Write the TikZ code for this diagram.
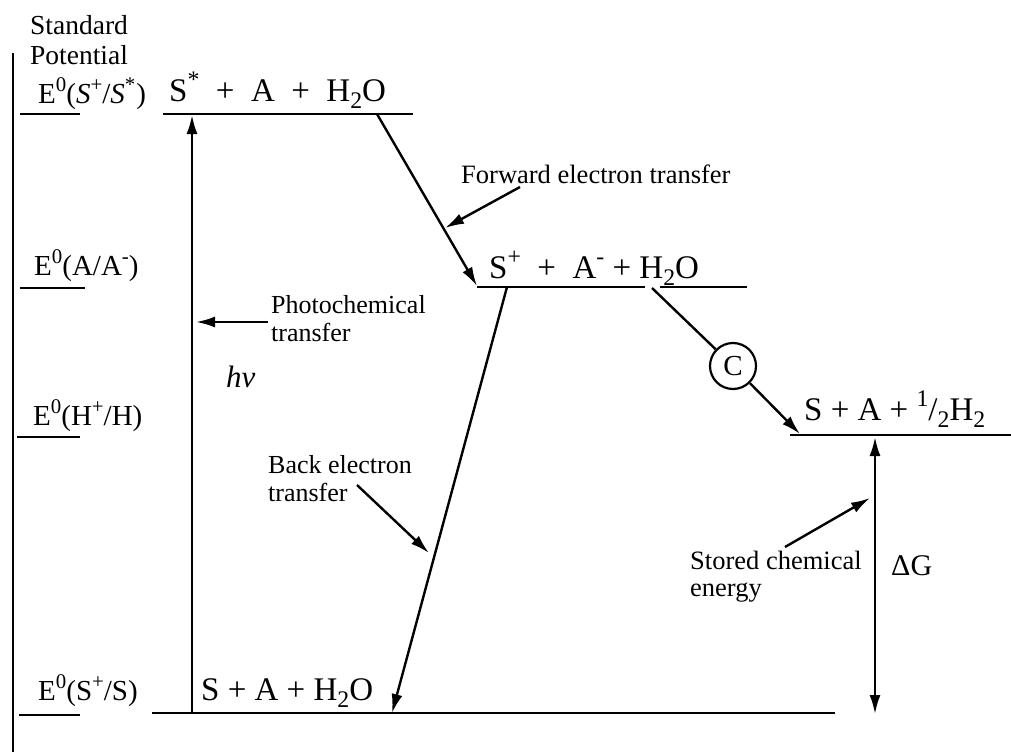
\documentclass[tikz,border=0pt]{standalone}
\usepackage{fontspec}
\usepackage{graphicx}
\setmainfont{Liberation Serif}
\usetikzlibrary{arrows.meta}
\newcommand{\upx}[1]{\raisebox{0.40em}{\scalebox{0.72}{#1}}}
\newcommand{\dnx}[1]{\raisebox{-0.22em}{\scalebox{0.72}{#1}}}
\begin{document}
\begin{tikzpicture}[x=1pt,y=-1pt,line width=2.4pt,
  arr/.style={-{Latex[length=19pt,width=11pt]}},
  dblarr/.style={{Latex[length=19pt,width=11pt]}-{Latex[length=19pt,width=11pt]}},
  lbl/.style={anchor=north west,inner sep=0pt,align=left,font=\fontsize{26}{28}\selectfont},
  lbll/.style={anchor=base west,inner sep=0pt,font=\fontsize{26.5}{28}\selectfont},
  mainlbl/.style={anchor=base west,inner sep=0pt,font=\fontsize{33}{36}\selectfont},
  levlbl/.style={anchor=base west,inner sep=0pt,font=\fontsize{29}{32}\selectfont},
  catal/.style={circle,draw,line width=2.2pt,minimum size=46pt,inner sep=0pt,font=\fontsize{29}{30}\selectfont}]
\useasboundingbox (0,0) rectangle (1011,752);
% axis
\coordinate (axT) at (13,53);
\coordinate (axB) at (13,752);
\draw (axT) -- (axB);
\node[lbl,font=\fontsize{27.5}{30}\selectfont] (std) at (29,14) {Standard\\Potential};
% left potential marks
\coordinate (l1a) at (20,114); \coordinate (l1b) at (80,114);
\coordinate (l2a) at (20,288); \coordinate (l2b) at (85,288);
\coordinate (l3a) at (17,437); \coordinate (l3b) at (80,437);
\coordinate (l4a) at (19,715); \coordinate (l4b) at (80,715);
\draw (l1a) -- (l1b); \draw (l2a) -- (l2b); \draw (l3a) -- (l3b); \draw (l4a) -- (l4b);
\node[levlbl] (e1) at (37,103) {E\upx{0}(\textit{S}\upx{+}/\textit{S}\upx{*}\kern1pt)};
\node[levlbl] (e2) at (33,275) {E\upx{0}(A/A\upx{-})};
\node[levlbl] (e3) at (32,425) {E\upx{0}(H\upx{+}/H)};
\node[levlbl] (e4) at (37,700) {E\upx{0}(S\upx{+}/S)};
% levels
\coordinate (topL) at (163,114); \coordinate (topR) at (413,114);
\coordinate (midL) at (477,287); \coordinate (midM1) at (645,287);
\coordinate (midM2) at (660,287); \coordinate (midR) at (747,287);
\coordinate (rgtL) at (790,435); \coordinate (rgtR) at (1011,435);
\coordinate (botL) at (152,713); \coordinate (botR) at (835,713);
\draw (topL) -- (topR);
\draw (midL) -- (midM1); \draw (midM2) -- (midR);
\draw (rgtL) -- (rgtR);
\draw (botL) -- (botR);
\node[mainlbl] (sstar) at (168,101) {S\upx{*}\ \ +\ \ A\ \ +\ \ H\dnx{2}O};
\node[mainlbl] (splus) at (488,278) {S\upx{+}\ \ +\ \ A\upx{-}\ +\ H\dnx{2}O};
\node[mainlbl] (shalf) at (803,420) {S + A + \upx{1}/\dnx{2}H\dnx{2}};
\node[mainlbl] (sground) at (200,700) {S + A + H\dnx{2}O};
% photochemical excitation
\coordinate (hvB) at (192,713); \coordinate (hvT) at (192,115);
\draw[arr] (hvB) -- (hvT);
\node[anchor=base west,inner sep=0pt,font=\fontsize{31}{34}\selectfont\itshape] (hv) at (225,387) {hv};
\node[lbl] (photo) at (270,294) {Photochemical\\transfer};
\coordinate (photoS) at (268,322); \coordinate (photoE) at (196,322);
\draw[arr] (photoS) -- (photoE);
% forward electron transfer
\coordinate (fwS) at (377,114); \coordinate (fwE) at (477,286);
\draw[arr] (fwS) -- (fwE);
\node[lbll] (fwlbl) at (460,183) {Forward electron transfer};
\coordinate (fwlS) at (520,187); \coordinate (fwlE) at (445,228);
\draw[arr] (fwlS) -- (fwlE);
% back electron transfer
\coordinate (bkS) at (507,287); \coordinate (bkE) at (392,713);
\draw[arr] (bkS) -- (bkE);
\node[lbl] (bklbl) at (267,454) {Back electron\\transfer};
\coordinate (bklS) at (357,485); \coordinate (bklE) at (429,553);
\draw[arr] (bklS) -- (bklE);
% catalyst
\node[catal] (cat) at (733,366) {C};
\coordinate (catS) at (652,288); \coordinate (catE) at (800,434);
\draw (catS) -- (cat);
\draw[arr] (cat) -- (catE);
% stored energy
\coordinate (dgT) at (875,437); \coordinate (dgB) at (875,714);
\draw[dblarr] (dgB) -- (dgT);
\node[anchor=base west,inner sep=0pt,font=\fontsize{30}{32}\selectfont] (dg) at (890,575) {ΔG};
\node[lbl,font=\fontsize{26.5}{27}\selectfont] (stored) at (689,550) {Stored chemical\\energy};
\coordinate (stS) at (785,547); \coordinate (stE) at (870,498);
\draw[arr] (stS) -- (stE);
\end{tikzpicture}
\end{document}
